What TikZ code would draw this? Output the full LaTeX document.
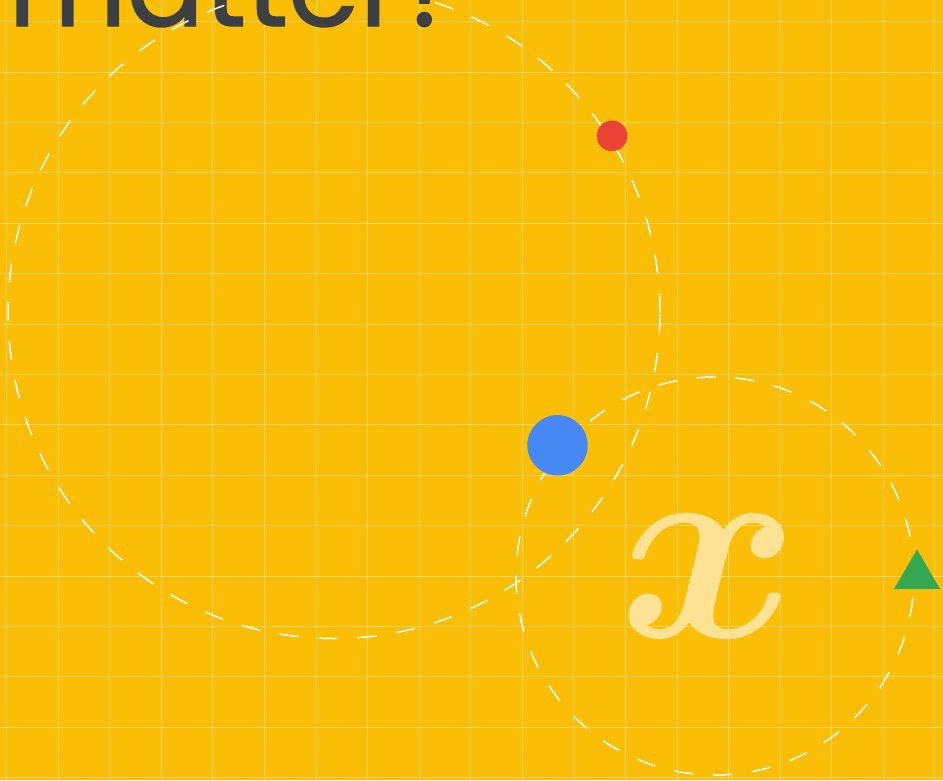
\documentclass[tikz,border=0pt]{standalone}
\usepackage{fontspec}
\newfontfamily\titlefont[FakeBold=1.2]{Poppins}
\definecolor{bgyellow}{HTML}{FBBE07}
\definecolor{lightx}{HTML}{FDE293}
\definecolor{gred}{HTML}{EA4335}
\definecolor{gblue}{HTML}{4688F4}
\definecolor{ggreen}{HTML}{34A853}
\definecolor{darktext}{HTML}{3C4043}
\tikzset{
  gridline/.style={draw=white, draw opacity=0.35, line width=1pt},
  orbit/.style={draw=white, line width=1.5pt, dash pattern=on 19pt off 20pt},
  dotshape/.style={circle, inner sep=0pt, draw=none}
}
\begin{document}
\begin{tikzpicture}[x=1pt,y=-1pt]
\useasboundingbox (0,0) rectangle (943,780);
\clip (0,0) rectangle (943,780);
\fill[bgyellow] (0,0) rectangle (943,780);
% grid
\foreach \k in {0,...,18} {
  \draw[gridline] ({6.7+51.57*\k},0) -- ({6.7+51.57*\k},780);
}
\foreach \k in {0,...,15} {
  \draw[gridline] (0,{21.7+50.4*\k}) -- (943,{21.7+50.4*\k});
}
% title text
\node[anchor=base west, inner sep=0pt, text=darktext, font=\titlefont\fontsize{115}{115}\selectfont] (title) at (8,26) {matter?};
% big x
\node[scale=27.5, text=lightx, inner sep=0pt, font=\boldmath] (bigx) at (709,576) {$x$};
% orbits
\node[orbit, circle, minimum size=652pt, inner sep=0pt] (bigorbit) at (334,312.5) {};
\node[orbit, circle, minimum size=398pt, inner sep=0pt] (smallorbit) at (715,576) {};
% dots
\node[dotshape, fill=gred, minimum size=30.6pt] (reddot) at (612,135.8) {};
\node[dotshape, fill=gblue, minimum size=60.4pt] (bluedot) at (557.5,445.3) {};
\fill[ggreen] (894,589) -- (940,589) -- (917,549.3) -- cycle;
\end{tikzpicture}
\end{document}
